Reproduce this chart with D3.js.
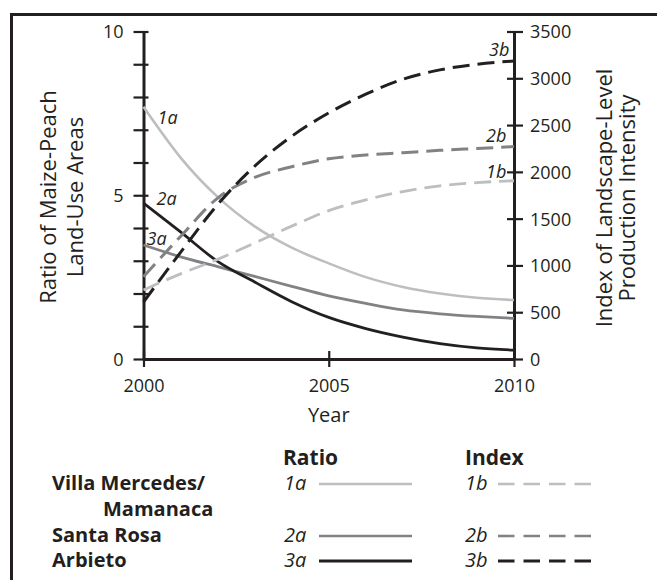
<!DOCTYPE html>
<html>
<head>
<meta charset="utf-8">
<script src="https://cdn.jsdelivr.net/npm/d3@7"></script>
<style>
  html, body { margin: 0; padding: 0; background: #fff; }
  svg { display: block; font-family: "Open Sans", sans-serif; }
</style>
</head>
<body>
<div id="chart"></div>
<script>
// values
var years = [2000, 2001, 2002, 2003, 2004, 2005, 2006, 2007, 2008, 2009, 2010];
var ratio1 = [7.7, 6.15, 4.95, 4.05, 3.4, 2.92, 2.5, 2.2, 2.0, 1.87, 1.8];
var ratio2 = [4.76, 3.88, 2.98, 2.35, 1.75, 1.27, 0.93, 0.67, 0.47, 0.34, 0.27];
var ratio3 = [3.48, 3.12, 2.82, 2.52, 2.22, 1.93, 1.7, 1.5, 1.38, 1.3, 1.24];
var index1 = [737, 910, 1065, 1240, 1420, 1585, 1700, 1790, 1850, 1885, 1905];
var index2 = [880, 1310, 1720, 1940, 2055, 2140, 2180, 2205, 2230, 2250, 2270];
var index3 = [609, 1140, 1650, 2060, 2380, 2630, 2830, 2990, 3090, 3150, 3185];
var leftTicks = d3.range(0, 11, 1);
var leftLabels = [0, 5, 10];
var rightTicks = d3.range(0, 3501, 500);
var xTicks = [2000, 2005, 2010];
var legendRows = [["Villa Mercedes/", "Mamanaca"], ["Santa Rosa"], ["Arbieto"]];

var W = 657, H = 580;
var ink = "#231f20", light = "#bcbec0", mid = "#808285";

var svg = d3.select("#chart").append("svg")
  .attr("width", W).attr("height", H);

// frame (open at right and bottom, as in the print)
svg.append("rect")
  .attr("x", 11.5).attr("y", 14.5)
  .attr("width", 660).attr("height", 600)
  .attr("fill", "none").attr("stroke", ink).attr("stroke-width", 3);

var x = d3.scaleLinear().domain([2000, 2010]).range([143.5, 514]);
var yL = d3.scaleLinear().domain([0, 10]).range([359, 31.5]);
var yR = d3.scaleLinear().domain([0, 3500]).range([359, 31.5]);

function styleAxis(g) {
  g.attr("font-family", "Open Sans, sans-serif");
  g.select(".domain").attr("stroke", ink).attr("stroke-width", 3);
  g.selectAll(".tick line").attr("stroke", ink).attr("stroke-width", 2.2);
  g.selectAll(".tick text").attr("fill", ink).style("font-size", "18px");
}

// left axis
var gl = svg.append("g").attr("transform", "translate(" + x(2000) + ",0)")
  .call(d3.axisLeft(yL).tickValues(leftTicks).tickSize(10).tickSizeOuter(0).tickPadding(10)
    .tickFormat(function(d){ return leftLabels.indexOf(d) >= 0 ? d : ""; }));
styleAxis(gl);
gl.selectAll(".tick line").attr("x1", 5);
gl.selectAll(".tick text").attr("dy", "0.36em");

// right axis
var gr = svg.append("g").attr("transform", "translate(" + x(2010) + ",0)")
  .call(d3.axisRight(yR).tickValues(rightTicks).tickSize(9).tickSizeOuter(0).tickPadding(7)
    .tickFormat(d3.format("d")));
styleAxis(gr);
gr.selectAll(".tick line").attr("x1", -7);
gr.selectAll(".tick text").attr("dy", "0.36em");

// bottom axis
var gx = svg.append("g").attr("transform", "translate(0," + yL(0) + ")")
  .call(d3.axisBottom(x).tickValues(xTicks).tickSize(8).tickSizeOuter(0).tickPadding(12)
    .tickFormat(d3.format("d")));
styleAxis(gx);
gx.selectAll(".tick line").attr("y1", -8);

// axis titles
function vTitle(cx, cy, lines, gap) {
  var t = svg.append("text")
    .attr("transform", "translate(" + cx + "," + cy + ") rotate(-90)")
    .attr("text-anchor", "middle").attr("fill", ink).style("font-size", "22px");
  lines.forEach(function(s, i) {
    t.append("tspan").attr("x", 0).attr("y", i * gap).text(s);
  });
}
vTitle(56, 197, ["Ratio of Maize-Peach", "Land-Use Areas"], 27);
vTitle(612, 198, ["Index of Landscape-Level", "Production Intensity"], 23);

svg.append("text").attr("x", (x(2000) + x(2010)) / 2).attr("y", 422)
  .attr("text-anchor", "middle").attr("fill", ink).style("font-size", "20px").text("Year");

// series lines
var series = [
  { v: ratio1, y: yL, c: light, w: 2.6, dash: null },
  { v: ratio3, y: yL, c: mid, w: 2.8, dash: null },
  { v: ratio2, y: yL, c: ink, w: 2.8, dash: null },
  { v: index1, y: yR, c: light, w: 2.8, dash: "17,8" },
  { v: index2, y: yR, c: mid, w: 3, dash: "17,8" },
  { v: index3, y: yR, c: ink, w: 3, dash: "17,8" }
];
series.forEach(function(s) {
  var line = d3.line()
    .x(function(d, i){ return x(years[i]); })
    .y(function(d){ return s.y(d); })
    .curve(d3.curveMonotoneX);
  svg.append("path").datum(s.v)
    .attr("d", line).attr("fill", "none")
    .attr("stroke", s.c).attr("stroke-width", s.w)
    .attr("stroke-dasharray", s.dash);
});

// in-chart line labels
function tag(px, py, s) {
  svg.append("text").attr("x", px).attr("y", py).attr("fill", ink)
    .style("font-size", "18px").style("font-style", "italic").text(s);
}
tag(x(2000) + 14, yL(ratio1[0]) + 17, "1a");
tag(x(2000) + 13, yL(ratio2[0]) + 2, "2a");
tag(x(2000) + 3, yL(ratio3[0]), "3a");
tag(x(2010) - 25, yR(index3[10]) - 5, "3b");
tag(x(2010) - 28, yR(index2[10]) - 5, "2b");
tag(x(2010) - 28, yR(index1[10]) - 3, "1b");

// legend
var lg = svg.append("g").attr("fill", ink);
lg.append("text").attr("x", 283).attr("y", 465).style("font-size", "21px")
  .style("font-weight", "bold").text("Ratio");
lg.append("text").attr("x", 465).attr("y", 465).style("font-size", "21px")
  .style("font-weight", "bold").text("Index");

var rowY = [490, 542, 567];
var keyCols = [light, mid, ink];
legendRows.forEach(function(r, i) {
  r.forEach(function(s, j) {
    lg.append("text").attr("x", j ? 103 : 52).attr("y", rowY[i] + j * 26)
      .style("font-size", "20px").style("font-weight", "bold").text(s);
  });
  lg.append("text").attr("x", 284).attr("y", rowY[i]).style("font-size", "20px")
    .style("font-style", "italic").text((i + 1) + "a");
  lg.append("text").attr("x", 465).attr("y", rowY[i]).style("font-size", "20px")
    .style("font-style", "italic").text((i + 1) + "b");
  lg.append("line").attr("x1", 319).attr("x2", 412)
    .attr("y1", rowY[i] - 6).attr("y2", rowY[i] - 6)
    .attr("stroke", keyCols[i]).attr("stroke-width", i === 2 ? 3 : 2.6);
  lg.append("line").attr("x1", 498).attr("x2", 593)
    .attr("y1", rowY[i] - 6).attr("y2", rowY[i] - 6)
    .attr("stroke", keyCols[i]).attr("stroke-width", i === 2 ? 3 : 2.6)
    .attr("stroke-dasharray", "16.5,9");
});
</script>
</body>
</html>
